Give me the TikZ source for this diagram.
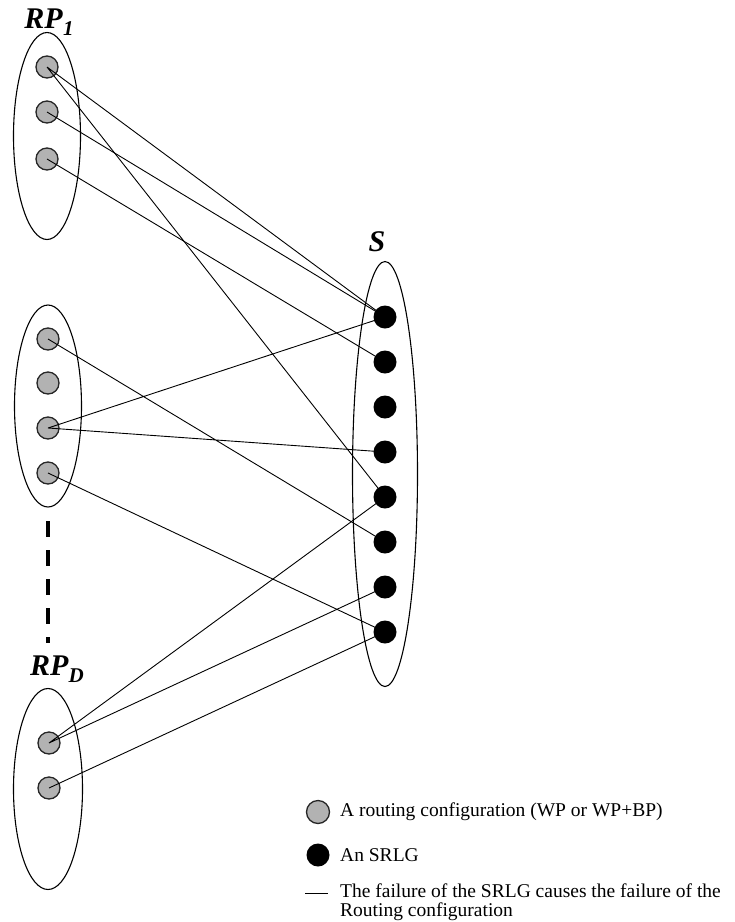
\documentclass[tikz,border=0pt]{standalone}
\usepackage{fontspec}
\setmainfont{Liberation Serif}
\usetikzlibrary{shapes.geometric}
\newcommand{\grplabel}[2]{\textbf{\textit{#1}}\raisebox{-.22em}{\fontsize{21}{21}\selectfont\textbf{\textit{#2}}}}

\begin{document}
\begin{tikzpicture}[x=1pt,y=-1pt,
	cfg/.style={circle,draw=black!85,fill=black!30,line width=1.3pt,minimum size=22pt,inner sep=0pt},
	srlg/.style={circle,fill=black,minimum size=23pt,inner sep=0pt},
	grp/.style={draw,ellipse,line width=1.1pt,inner sep=0pt},
	link/.style={line width=0.9pt},
	lbl/.style={font=\fontsize{30}{32}\selectfont},
	txt/.style={font=\fontsize{19.5}{19}\selectfont,anchor=west,align=left,inner sep=0pt}]
	\useasboundingbox (0,0) rectangle (735,922);
	% groups
	\node[grp,minimum width=67pt,minimum height=207pt] (rp1) at (47,136) {};
	\node[grp,minimum width=67pt,minimum height=202pt] (rp2) at (48,406) {};
	\node[grp,minimum width=69pt,minimum height=201pt] (rpd) at (48,789) {};
	\node[grp,minimum width=65pt,minimum height=425pt] (s) at (385,474) {};
	\node[lbl] (rp1lab) at (49,22) {\grplabel{RP}{1}};
	\node[lbl] (rpdlab) at (57,669) {\grplabel{RP}{D}};
	\node[lbl] (slab) at (377,242) {\textbf{\textit{S}}};
	% routing configurations and SRLGs
	\foreach \i/\y in {1/67,2/112,3/159} \node[cfg] (a\i) at (47,\y) {};
	\foreach \i/\y in {1/339,2/383,3/428,4/473} \node[cfg] (b\i) at (48,\y) {};
	\foreach \i/\y in {1/743,2/788} \node[cfg] (d\i) at (49,\y) {};
	\foreach \i in {1,...,8} \node[srlg] (s\i) at (385,{317+45*(\i-1)}) {};
	\coordinate (dtop) at (48,521);
	\coordinate (dbot) at (48,643);
	\draw[line width=3.5pt,dash pattern=on 16pt off 13pt] (dtop) -- (dbot);
	% failures
	\draw[link] (a1.center) -- (s1.center) (a1.center) -- (s5.center);
	\draw[link] (a2.center) -- (s1.center) (a3.center) -- (s2.center);
	\draw[link] (b1.center) -- (s6.center) (b3.center) -- (s1.center) (b3.center) -- (s4.center) (b4.center) -- (s8.center);
	\draw[link] (d1.center) -- (s5.center) (d1.center) -- (s7.center) (d2.center) -- (s8.center);
	% legend
	\node[cfg,minimum size=23pt] (lg1) at (318,812) {};
	\node[txt] (lt1) at (340,812) {A routing configuration (WP or WP+BP)};
	\node[srlg] (lg2) at (318,855) {};
	\node[txt] (lt2) at (340,855) {An SRLG};
	\coordinate (lg3a) at (305,893);
	\coordinate (lg3b) at (328,893);
	\draw[link] (lg3a) -- (lg3b);
	\node[txt] (lt3) at (340,902) {The failure of the SRLG causes the failure of the\\Routing configuration};
\end{tikzpicture}
\end{document}
